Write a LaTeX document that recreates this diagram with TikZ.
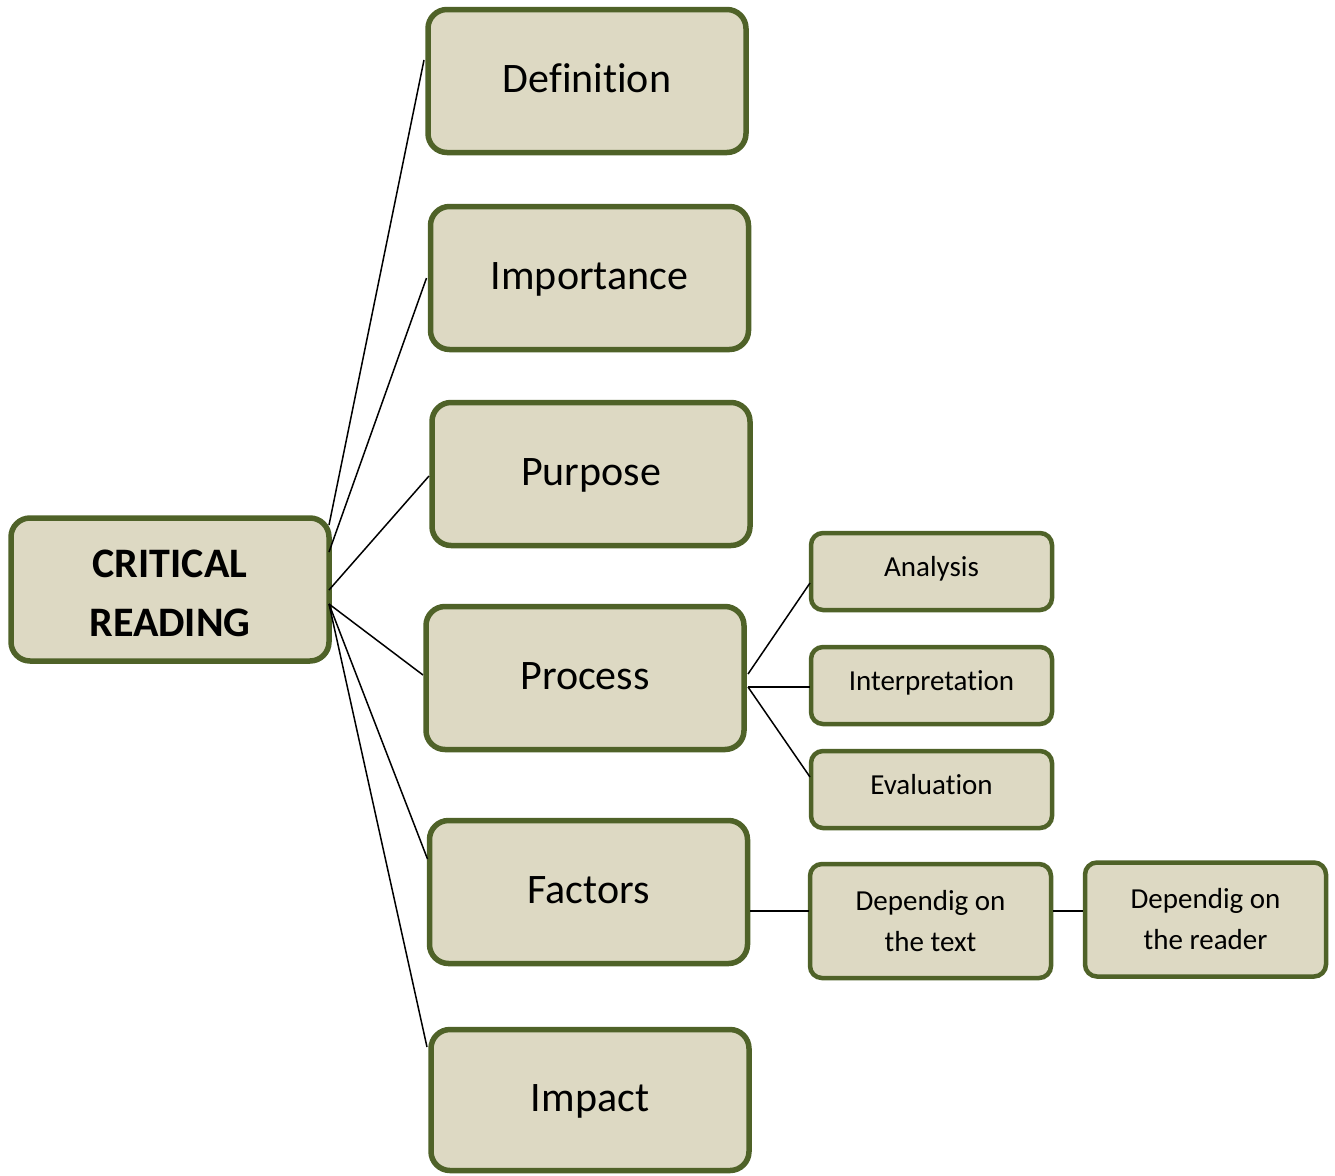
\documentclass[tikz,border=0pt]{standalone}
\usepackage{fontspec}
\setmainfont[Ligatures={NoCommon,NoContextual}]{Carlito}
\usetikzlibrary{calc}
\definecolor{boxfill}{HTML}{DDD9C3}
\definecolor{boxline}{HTML}{4F6228}
\begin{document}
\begin{tikzpicture}[x=1pt,y=-1pt,
  bigbox/.style={draw=boxline, fill=boxfill, line width=5.5pt, rounded corners=19pt,
    minimum width=318pt, minimum height=143pt, inner sep=0pt, outer sep=0pt,
    font=\fontsize{42}{59}\selectfont, text height=32pt, text depth=10pt},
  smallbox/.style={draw=boxline, fill=boxfill, line width=4.5pt, rounded corners=12pt,
    minimum width=241pt, minimum height=77pt, inner sep=0pt, outer sep=0pt,
    font=\fontsize{29}{41}\selectfont},
  oneline/.style={text height=19pt, text depth=9pt},
  twoline/.style={align=center, minimum height=114pt},
  conn/.style={draw=black, line width=1.5pt}]
\useasboundingbox (0,0) rectangle (1335,1175);

\node[bigbox, text height=, text depth=, align=center, font=\bfseries\fontsize{42}{59}\selectfont] (cr) at (170,589.5) {\rule{0pt}{35.5pt}CRITICAL\\READING};

\node[bigbox] (def) at (587,81) {Definition};
\node[bigbox] (imp) at (589.5,278) {Importance};
\node[bigbox] (pur) at (591,474) {Purpose};
\node[bigbox] (pro) at (585,678) {Process};
\node[bigbox] (fac) at (588.5,892) {Factors};
\node[bigbox, minimum height=141pt] (ipt) at (590,1100) {Impact};

\node[smallbox, oneline] (ana) at (931.5,571.5) {Analysis};
\node[smallbox, oneline] (int) at (931.5,685.5) {Interpretation};
\node[smallbox, oneline] (eva) at (931.5,789.5) {Evaluation};
\node[smallbox, twoline] (dtx) at (930.5,921) {Dependig on\\the text};
\node[smallbox, twoline] (drd) at (1205.5,919.5) {Dependig on\\the reader};

\draw[conn] ($(cr.east)+(0,-64.5)$) -- ($(def.west)+(-4,-21)$);
\draw[conn] ($(cr.east)+(0,-37.5)$) -- ($(imp.west)+(-4,0)$);
\draw[conn] ($(cr.east)+(0,0.5)$) -- ($(pur.west)+(-3,2)$);
\draw[conn] ($(cr.east)+(0,14.5)$) -- ($(pro.west)+(-3,-3)$);
\draw[conn] ($(cr.east)+(0,14.5)$) -- ($(fac.west)+(-2,-33)$);
\draw[conn] ($(cr.east)+(0,14.5)$) -- ($(ipt.west)+(-4,-53)$);

\draw[conn] ($(pro.east)+(4,-4)$) -- ($(ana.west)+(-1,11.5)$);
\draw[conn] ($(pro.east)+(4,9)$) -- ($(int.west)+(-1,1.5)$);
\draw[conn] ($(pro.east)+(4,9)$) -- ($(eva.west)+(-1,-12.5)$);

\draw[conn] ($(fac.east)+(2.5,19)$) -- ($(dtx.west)+(-1,-10)$);
\draw[conn] ($(dtx.east)+(2,-10)$) -- ($(drd.west)+(-2,-8.5)$);
\end{tikzpicture}
\end{document}
